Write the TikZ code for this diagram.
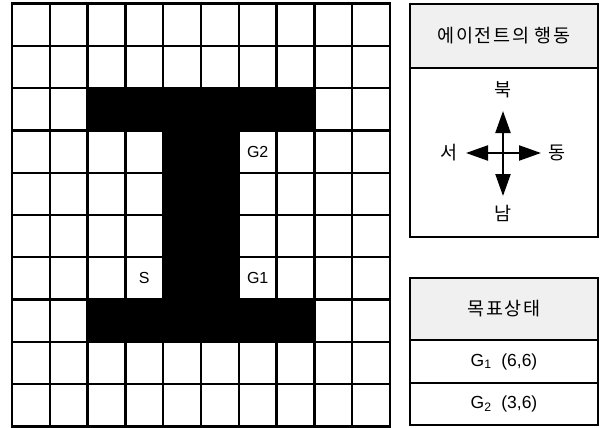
\documentclass[tikz,border=0pt]{standalone}
\usepackage{fontspec}
\setmainfont{Liberation Sans}
\newfontfamily\kor[LetterSpace=9]{Noto Sans CJK KR}
\usetikzlibrary{arrows.meta}

\begin{document}
\begin{tikzpicture}[x=1pt, y=-1pt,
  gridln/.style={line width=2.3pt},
  wall/.style={fill=black},
  cell/.style={font=\fontsize{16}{18}\selectfont},
  headbox/.style={rectangle, draw, line width=2.2pt, fill=gray!12, minimum width=188pt,
                  align=center, font=\kor\fontsize{18.5}{20}\selectfont},
  bodybox/.style={rectangle, draw, line width=2.2pt, fill=white, minimum width=188pt,
                  align=center, font=\fontsize{17.5}{20}\selectfont},
  dirarrow/.style={line width=2.2pt, -{Triangle[length=22pt,width=15pt]}},
  dirlab/.style={font=\kor\fontsize{18.5}{20}\selectfont},
]
\useasboundingbox (0,0) rectangle (603,428);
% ================= grid world (10 x 10) =====================================
\begin{scope}[shift={(12pt,-3.5pt)}, x=37.8pt, y=-42.3pt]
  \fill[wall] (2,2) rectangle (8,3);   % top bar
  \fill[wall] (4,3) rectangle (6,7);   % stem
  \fill[wall] (2,7) rectangle (8,8);   % bottom bar
  \foreach \i in {0,...,10} {
    \draw[gridln] (\i,0) -- (\i,10);
    \draw[gridln] (0,\i) -- (10,\i);
  }
  \draw[gridln] (0,0) rectangle (10,10);
  \node[cell] (start) at (3.5,6.5) {S};
  \node[cell] (goal1) at (6.5,6.5) {G1};
  \node[cell] (goal2) at (6.5,3.5) {G2};
\end{scope}
% ================= agent actions (upper right) ==============================
\node[headbox, minimum height=64pt] (acthead) at (504,36) {에이전트의 행동};
\node[bodybox, minimum height=169pt] (actbody) at (504,152.5) {};
\coordinate (ctr) at (503,153);
\coordinate (tipn) at (503,111);
\coordinate (tips) at (503,196);
\coordinate (tipw) at (466,153);
\coordinate (tipe) at (541,153);
\draw[dirarrow] (ctr) -- (tipn);
\draw[dirarrow] (ctr) -- (tips);
\draw[dirarrow] (ctr) -- (tipw);
\draw[dirarrow] (ctr) -- (tipe);
\node[dirlab] (north) at (503,90) {북};
\node[dirlab] (south) at (503,213) {남};
\node[dirlab] (west) at (449,153) {서};
\node[dirlab] (east) at (557,153) {동};
% ================= goal states (lower right) ================================
\node[headbox, minimum height=62pt] (goalhead) at (504,309) {목표상태};
\node[bodybox, minimum height=43pt] (goalrow1) at (504,361.5) {G\textsubscript{1}\ \ (6,6)};
\node[bodybox, minimum height=42pt] (goalrow2) at (504,404) {G\textsubscript{2}\ \ (3,6)};
\end{tikzpicture}
\end{document}
